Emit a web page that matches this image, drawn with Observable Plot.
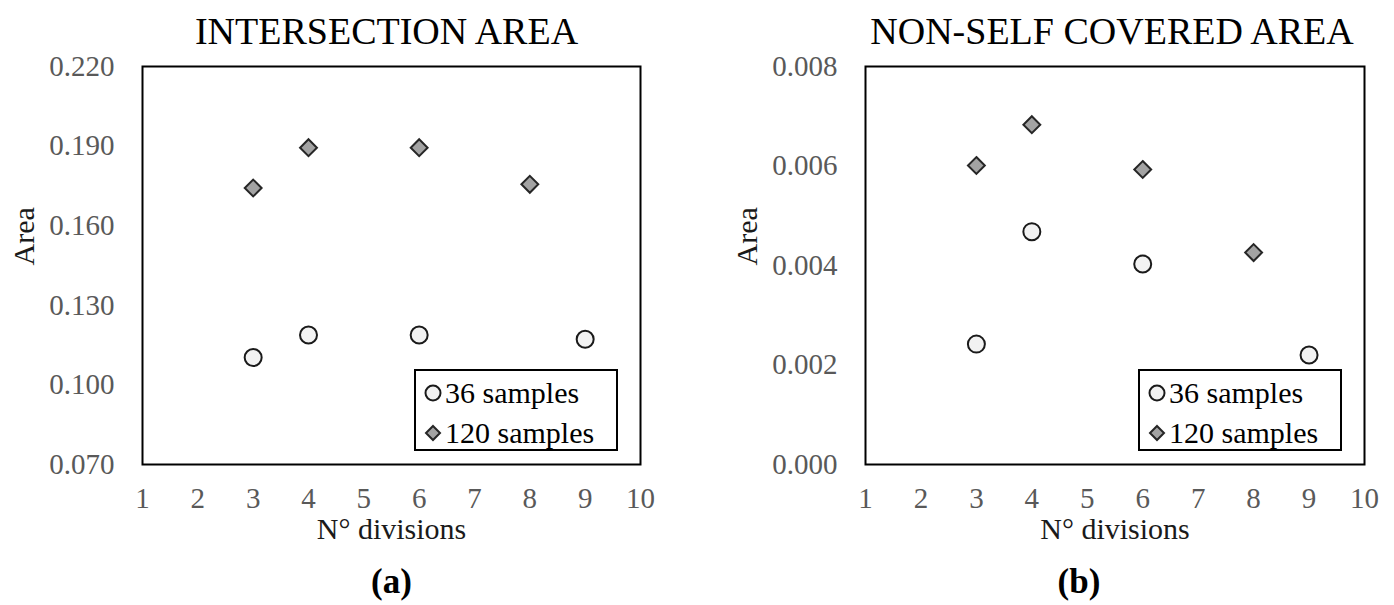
<!DOCTYPE html>
<html>
<head>
<meta charset="utf-8">
<script src="https://cdn.jsdelivr.net/npm/d3@7"></script>
<script src="https://cdn.jsdelivr.net/npm/@observablehq/plot@0.6"></script>
<style>
  html, body { margin: 0; padding: 0; background: #fff; }
  #wrap { position: relative; width: 1394px; height: 605px; overflow: hidden; font-family: "Liberation Serif", serif; }
  .panel { position: absolute; top: 0; width: 697px; height: 605px; }
  .legend { position: absolute; box-sizing: border-box; border: 2px solid #000; background: #fff; width: 204px; height: 82px; }
  .legend .row { position: absolute; left: 8px; height: 40px; display: flex; align-items: center; font-size: 30px; color: #000; white-space: nowrap; }
  .legend svg { margin-right: 3px; }
</style>
</head>
<body>
<div id="wrap"></div>
<script>
// ---- data ----
const divisions36 = [3, 4, 6, 9];
const divisions120 = [3, 4, 6, 8];
const xTicks = [1, 2, 3, 4, 5, 6, 7, 8, 9, 10];

// (a) Intersection area
const intersection36 = [0.1103, 0.1188, 0.1188, 0.1172];
const intersection120 = [0.1742, 0.1894, 0.1894, 0.1756];
const intersectionTicks = [0.07, 0.10, 0.13, 0.16, 0.19, 0.22];

// (b) Non-self covered area
const nonself36 = [0.00242, 0.00468, 0.00403, 0.00220];
const nonself120 = [0.00601, 0.00683, 0.00593, 0.00426];
const nonselfTicks = [0.000, 0.002, 0.004, 0.006, 0.008];

const seriesNames = ["36 samples", "120 samples"];
const titles = ["INTERSECTION AREA", "NON-SELF COVERED AREA"];
const captions = ["(a)", "(b)"];
const xLabel = "N\u00B0 divisions";
const yLabel = "Area";

function panel(cfg) {
  const d36 = cfg.x36.map((x, i) => ({x, y: cfg.y36[i]}));
  const d120 = cfg.x120.map((x, i) => ({x, y: cfg.y120[i]}));
  const serif = "Liberation Serif";
  return Plot.plot({
    width: 697,
    height: 605,
    marginLeft: cfg.ml,
    marginRight: cfg.mr,
    marginTop: 66,
    marginBottom: 141,
    x: {domain: [1, 10]},
    y: {domain: [cfg.yTicks[0], cfg.yTicks[cfg.yTicks.length - 1]]},
    style: {fontFamily: serif, background: "#fff", color: "#595959", overflow: "visible"},
    marks: [
      Plot.axisX({ticks: xTicks, tickSize: 0, tickPadding: 23, fontSize: 29, label: null}),
      Plot.axisY({ticks: cfg.yTicks, tickFormat: d3.format(".3f"), tickSize: 0, tickPadding: 28, fontSize: 29, label: null}),
      Plot.frame({stroke: "#000", strokeWidth: 2}),
      Plot.dot(d36, {x: "x", y: "y", r: 8.5, symbol: "circle", fill: "#f2f2f2", stroke: "#1a1a1a", strokeWidth: 2}),
      Plot.dot(d120, {x: "x", y: "y", r: 7.6, symbol: "diamond2", fill: "#a3a3a3", stroke: "#262626", strokeWidth: 2}),
      Plot.text([cfg.title], {frameAnchor: "top", dy: -23, dx: cfg.titleDx, lineAnchor: "bottom", fontSize: 38, fill: "#000", fontFamily: serif}),
      Plot.text([xLabel], {frameAnchor: "bottom", dy: 74, lineAnchor: "bottom", fontSize: 30, fill: "#1a1a1a", fontFamily: serif}),
      Plot.text([yLabel], {frameAnchor: "left", dx: -118, rotate: -90, fontSize: 30, fill: "#1a1a1a", fontFamily: serif}),
      Plot.text([cfg.caption], {frameAnchor: "bottom", dy: 128, dx: cfg.capDx, lineAnchor: "bottom", fontSize: 35, fontWeight: "bold", fill: "#000", fontFamily: serif})
    ]
  });
}

function legend(left) {
  const el = document.createElement("div");
  el.className = "legend";
  el.style.left = left + "px";
  el.style.top = "369px";
  const circ = `<svg width="18" height="18" viewBox="-9 -9 18 18"><circle r="7.5" fill="#f2f2f2" stroke="#1a1a1a" stroke-width="2"/></svg>`;
  const diam = `<svg width="18" height="18" viewBox="-9 -9 18 18"><path d="M0,-7L7,0L0,7L-7,0Z" fill="#a3a3a3" stroke="#262626" stroke-width="2"/></svg>`;
  el.innerHTML = `<div class="row" style="top:2px">${circ}${seriesNames[0]}</div><div class="row" style="top:42px">${diam}${seriesNames[1]}</div>`;
  return el;
}

const wrap = document.getElementById("wrap");
const cfgs = [
  {x36: divisions36, y36: intersection36, x120: divisions120, y120: intersection120, yTicks: intersectionTicks, ml: 142, mr: 57, title: titles[0], caption: captions[0], titleDx: -5, capDx: 0, legendLeft: 414},
  {x36: divisions36, y36: nonself36, x120: divisions120, y120: nonself120, yTicks: nonselfTicks, ml: 168, mr: 30, title: titles[1], caption: captions[1], titleDx: -3, capDx: -36, legendLeft: 441}
];
cfgs.forEach((cfg, i) => {
  const p = document.createElement("div");
  p.className = "panel";
  p.style.left = (i * 697) + "px";
  p.appendChild(panel(cfg));
  p.appendChild(legend(cfg.legendLeft));
  wrap.appendChild(p);
});
</script>
</body>
</html>
